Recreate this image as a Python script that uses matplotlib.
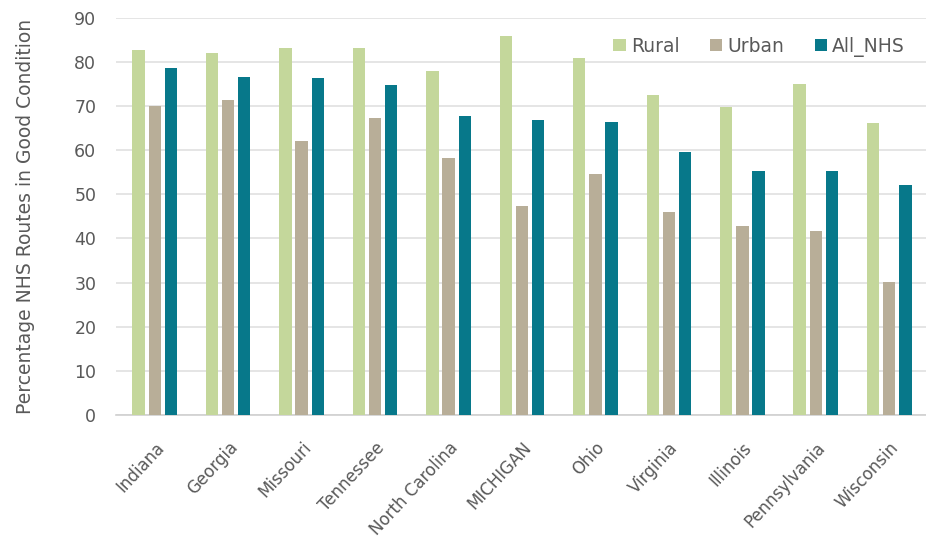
import matplotlib
matplotlib.use("Agg")
import matplotlib.pyplot as plt
import numpy as np

states = ["Indiana", "Georgia", "Missouri", "Tennessee", "North Carolina", "MICHIGAN",
          "Ohio", "Virginia", "Illinois", "Pennsylvania", "Wisconsin"]
rural = [82.8, 82.0, 83.2, 83.2, 77.9, 86.0, 80.8, 72.6, 69.8, 75.0, 66.1]
urban = [70.1, 71.4, 62.0, 67.4, 58.3, 47.3, 54.7, 46.1, 42.8, 41.6, 30.1]
all_nhs = [78.7, 76.7, 76.3, 74.7, 67.7, 66.9, 66.4, 59.6, 55.4, 55.4, 52.1]
yticks = [0, 10, 20, 30, 40, 50, 60, 70, 80, 90]

c_rural = "#c4d79b"
c_urban = "#b8ae98"
c_all = "#07788a"
txt = "#595959"

fig = plt.figure(figsize=(9.26, 5.43), dpi=100)
ax = fig.add_axes([0.125, 0.236, 0.875, 0.731])

x = np.arange(len(states))
w = 0.168
step = 0.22
ax.bar(x - step, rural, w, color=c_rural, label="Rural", zorder=3)
ax.bar(x, urban, w, color=c_urban, label="Urban", zorder=3)
ax.bar(x + step, all_nhs, w, color=c_all, label="All_NHS", zorder=3)

ax.set_xlim(-0.53, 10.5)
ax.set_ylim(0, 90)
ax.set_yticks(yticks)
ax.yaxis.grid(True, color="#e0e0e0", linewidth=1.2, zorder=0)
ax.set_axisbelow(True)
for s in ["top", "right", "left"]:
    ax.spines[s].set_visible(False)
ax.spines["bottom"].set_color("#d0d0d0")
ax.spines["bottom"].set_linewidth(1.2)
ax.tick_params(axis="both", length=0, colors=txt, labelsize=12.5)
ax.tick_params(axis="y", pad=14)
ax.set_xticks(x)
ax.set_xticklabels(states, rotation=47, ha="right", rotation_mode="anchor", fontsize=12, color=txt)
ax.tick_params(axis="x", pad=17)
ax.set_ylabel("Percentage NHS Routes in Good Condition", fontsize=13.5, color=txt, labelpad=28)

leg = ax.legend(loc="upper right", ncol=3, frameon=False, fontsize=13.5, bbox_to_anchor=(0.995, 0.995),
                handlelength=0.65, handleheight=0.65, handletextpad=0.3, columnspacing=1.6)
for t in leg.get_texts():
    t.set_color(txt)

fig.savefig("out.png", dpi=100)
